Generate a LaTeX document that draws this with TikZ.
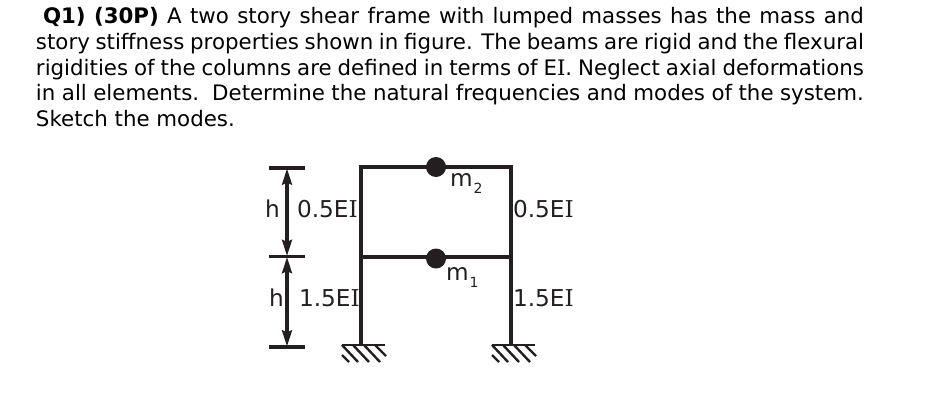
\documentclass[tikz,border=0pt]{standalone}
\usepackage{fontspec}
\setmainfont{DejaVu Sans}
\newfontfamily\slabfont{DejaVu Serif}
\usetikzlibrary{arrows.meta}
\definecolor{ink}{HTML}{231F20}
\newcommand{\slabI}{{\slabfont I}}
\newcommand{\linetext}[2]{\hbox to #1{\spaceskip=0.318em plus 1em minus 0.1em\relax #2}}
\tikzset{
  x=0.75pt,y=-0.75pt,
  para/.style={anchor=base west,inner sep=0pt,outer sep=0pt,font=\fontsize{16pt}{19pt}\selectfont,text=black},
  lab/.style={anchor=base west,inner sep=0pt,outer sep=0pt,font=\fontsize{17.4pt}{20pt}\selectfont,text=ink},
  sublab/.style={anchor=base west,inner sep=0pt,outer sep=0pt,font=\fontsize{10.5pt}{12pt}\selectfont,text=ink},
  frame/.style={draw=ink,line width=3.3pt,line cap=butt,line join=miter},
  dim/.style={draw=ink,line width=2.3pt},
  dimarrow/.style={draw=ink,line width=2.3pt,{Stealth[length=12pt,width=7.5pt,inset=1.5pt]}-{Stealth[length=12pt,width=7.5pt,inset=1.5pt]},shorten <=0.5pt,shorten >=0.5pt},
  mass/.style={circle,fill=ink,draw=none,minimum size=15pt,inner sep=0pt},
  hatch/.style={draw=ink,line width=1.8pt},
}
\begin{document}
\begin{tikzpicture}
\useasboundingbox (0,0) rectangle (941,407);
% paragraph
\node[para] (l1) at (43,23) {\linetext{615.75pt}{\textbf{Q1) (30P)} A two story shear frame with lumped masses has the mass and}};
\node[para] (l2) at (36,49) {\linetext{621pt}{story stiffness properties shown in figure. The beams are rigid and the flexural}};
\node[para] (l3) at (36,75) {\linetext{621pt}{rigidities of the columns are defined in terms of E\slabI. Neglect axial deformations}};
\node[para] (l4) at (36,100) {\linetext{621pt}{in all elements.\ \ Determine the natural frequencies and modes of the system.}};
\node[para] (l5) at (36,126) {Sketch the modes.};
% frame joints
\coordinate (bl) at (361,344);
\coordinate (br) at (511,344);
\coordinate (ml) at (361,257);
\coordinate (mr) at (511,257);
\coordinate (tl) at (361,167);
\coordinate (tr) at (511,167);
\draw[frame] (bl) -- (tl) -- (tr) -- (br);
\draw[frame] (ml) -- (mr);
% masses
\node[mass] (m2) at (436,167) {};
\node[mass] (m1) at (436,258.5) {};
% dimension lines
\coordinate (d1) at (287,168);
\coordinate (d2) at (287,256.5);
\coordinate (d3) at (287,347);
\draw[dim] (269,168) -- (305,168);
\draw[dim] (269,256.5) -- (305,256.5);
\draw[dim] (269,347) -- (305,347);
\draw[dimarrow] (d1) -- (d2);
\draw[dimarrow] (d2) -- (d3);
% supports
\foreach \b in {bl,br}{
  \begin{scope}[shift={(\b)}]
    \draw[hatch] (-19,1) -- (24,1);
    \draw[hatch] (-19,1) -- (-3,18);
    \draw[hatch] (-8,1) -- (8,18);
    \draw[hatch] (3,1) -- (19,18);
    \draw[hatch] (14,1) -- (25,12);
    \draw[hatch] (-19,11) -- (-12,18);
  \end{scope}
}
% labels
\node[lab] (h1) at (265,217) {h};
\node[lab] (h2) at (269,306) {h};
\node[lab] (e1) at (297,217) {0.5E\slabI};
\node[lab] (e2) at (299,306) {1.5E\slabI};
\node[lab] (e3) at (513,217) {0.5E\slabI};
\node[lab] (e4) at (513,306) {1.5E\slabI};
\node[lab] (m2l) at (450,186) {m};
\node[sublab] (m2s) at (473.5,193) {2};
\node[lab] (m1l) at (446,280) {m};
\node[sublab] (m1s) at (469.5,287) {1};
\end{tikzpicture}
\end{document}
